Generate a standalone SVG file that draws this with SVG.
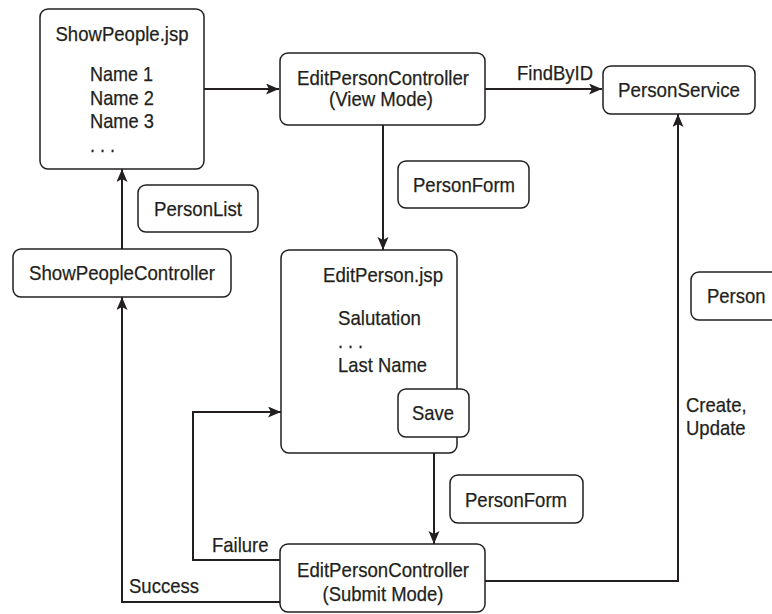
<svg xmlns="http://www.w3.org/2000/svg" width="772" height="614" viewBox="0 0 772 614">
  <style>
    .box { fill: #ffffff; stroke: #231f20; stroke-width: 1.5; }
    .wire { fill: none; stroke: #231f20; stroke-width: 2; }
    text { font-family: "Liberation Sans", Arial, sans-serif; font-size: 21px; fill: #231f20; stroke: #231f20; stroke-width: 0.25; }
    .c { text-anchor: middle; }
  </style>
  <defs>
    <marker id="arrow" markerUnits="userSpaceOnUse" markerWidth="14" markerHeight="12" refX="13" refY="5.5" orient="auto">
      <path d="M0,0 L13,5.5 L0,11 L3,5.5 z" fill="#231f20"/>
    </marker>
  </defs>

  <rect width="772" height="614" fill="#ffffff"/>

  <!-- connectors and their labels (condensed lettering via textLength) -->
  <g id="connectors">
    <path class="wire" d="M204,89 H279" marker-end="url(#arrow)"/>
    <path class="wire" d="M485,89 H602" marker-end="url(#arrow)"/>
    <path class="wire" d="M383,125 V250" marker-end="url(#arrow)"/>
    <path class="wire" d="M434,437 V544" marker-end="url(#arrow)"/>
    <path class="wire" d="M485,581 H678 V114" marker-end="url(#arrow)"/>
    <path class="wire" d="M280,560 H193 V412 H281" marker-end="url(#arrow)"/>
    <path class="wire" d="M280,602 H122 V297" marker-end="url(#arrow)"/>
    <path class="wire" d="M122,249 V169" marker-end="url(#arrow)"/>
    <text x="517" y="80" textLength="76" lengthAdjust="spacingAndGlyphs">FindByID</text>
    <text x="212" y="552" textLength="56.5" lengthAdjust="spacingAndGlyphs">Failure</text>
    <text x="129" y="593" textLength="70" lengthAdjust="spacingAndGlyphs">Success</text>
    <text x="686" y="412" textLength="60.7" lengthAdjust="spacingAndGlyphs">Create,</text>
    <text x="686" y="435" textLength="59.6" lengthAdjust="spacingAndGlyphs">Update</text>
  </g>

  <g id="showpeople-jsp">
    <rect class="box" x="40" y="9" width="164" height="160" rx="8"/>
    <text class="c" x="122" y="41" textLength="133" lengthAdjust="spacingAndGlyphs">ShowPeople.jsp</text>
    <text x="90" y="81" textLength="63" lengthAdjust="spacingAndGlyphs">Name 1</text>
    <text x="90" y="105" textLength="64" lengthAdjust="spacingAndGlyphs">Name 2</text>
    <text x="90" y="128" textLength="64" lengthAdjust="spacingAndGlyphs">Name 3</text>
    <text x="90" y="152" textLength="25" lengthAdjust="spacingAndGlyphs">. . .</text>
  </g>

  <g id="edit-controller-view">
    <rect class="box" x="280" y="53" width="205" height="72" rx="8"/>
    <text class="c" x="383" y="85" textLength="172" lengthAdjust="spacingAndGlyphs">EditPersonController</text>
    <text class="c" x="381" y="106" textLength="104" lengthAdjust="spacingAndGlyphs">(View Mode)</text>
  </g>

  <g id="person-service">
    <rect class="box" x="603" y="66" width="152" height="48" rx="8"/>
    <text class="c" x="679" y="97" textLength="122" lengthAdjust="spacingAndGlyphs">PersonService</text>
  </g>

  <g id="personform-top">
    <rect class="box" x="398" y="161" width="131" height="47" rx="8"/>
    <text class="c" x="464" y="192" textLength="102" lengthAdjust="spacingAndGlyphs">PersonForm</text>
  </g>

  <g id="personlist">
    <rect class="box" x="138" y="185" width="120" height="47" rx="8"/>
    <text class="c" x="198" y="216" textLength="88" lengthAdjust="spacingAndGlyphs">PersonList</text>
  </g>

  <g id="showpeople-controller">
    <rect class="box" x="13" y="249" width="218" height="48" rx="8"/>
    <text class="c" x="122" y="280" textLength="186" lengthAdjust="spacingAndGlyphs">ShowPeopleController</text>
  </g>

  <g id="editperson-jsp">
    <rect class="box" x="281" y="250" width="176" height="203" rx="8"/>
    <text class="c" x="383" y="282" textLength="120" lengthAdjust="spacingAndGlyphs">EditPerson.jsp</text>
    <text x="338" y="325" textLength="83" lengthAdjust="spacingAndGlyphs">Salutation</text>
    <text x="338" y="348" textLength="25" lengthAdjust="spacingAndGlyphs">. . .</text>
    <text x="338" y="372" textLength="89" lengthAdjust="spacingAndGlyphs">Last Name</text>
  </g>

  <g id="save-button">
    <rect class="box" x="398" y="389" width="71" height="48" rx="8"/>
    <text class="c" x="433" y="420" textLength="42" lengthAdjust="spacingAndGlyphs">Save</text>
  </g>

  <g id="person">
    <rect class="box" x="691" y="272" width="100" height="48" rx="8"/>
    <text x="707" y="303" textLength="58.6" lengthAdjust="spacingAndGlyphs">Person</text>
  </g>

  <g id="personform-bottom">
    <rect class="box" x="450" y="475" width="133" height="48" rx="8"/>
    <text class="c" x="516" y="507" textLength="102" lengthAdjust="spacingAndGlyphs">PersonForm</text>
  </g>

  <g id="edit-controller-submit">
    <rect class="box" x="280" y="544" width="205" height="68" rx="8"/>
    <text class="c" x="383" y="577" textLength="172" lengthAdjust="spacingAndGlyphs">EditPersonController</text>
    <text class="c" x="383" y="601" textLength="121" lengthAdjust="spacingAndGlyphs">(Submit Mode)</text>
  </g>
</svg>
